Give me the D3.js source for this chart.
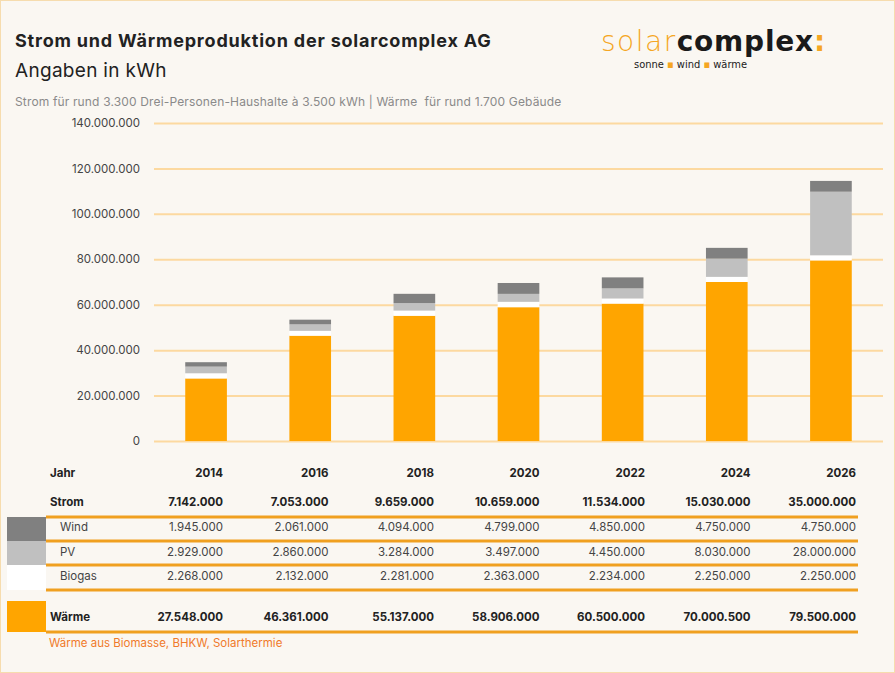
<!DOCTYPE html>
<html>
<head>
<meta charset="utf-8">
<script src="https://cdn.jsdelivr.net/npm/d3@7"></script>
<style>
  body { margin: 0; background: #faf7f2; }
  svg { display: block; font-family: Inter, "Noto Sans", sans-serif; }
</style>
</head>
<body>
<svg></svg>
<script>
let years = ["2014", "2016", "2018", "2020", "2022", "2024", "2026"];
let strom = [7142000, 7053000, 9659000, 10659000, 11534000, 15030000, 35000000];
let wind = [1945000, 2061000, 4094000, 4799000, 4850000, 4750000, 4750000];
let pv = [2929000, 2860000, 3284000, 3497000, 4450000, 8030000, 28000000];
let biogas = [2268000, 2132000, 2281000, 2363000, 2234000, 2250000, 2250000];
let waerme = [27548000, 46361000, 55137000, 58906000, 60500000, 70000500, 79500000];
let yTicks = [0, 20000000, 40000000, 60000000, 80000000, 100000000, 120000000, 140000000];

let width = 895;
let height = 673;

let colors = { waerme: "#ffa500", biogas: "#ffffff", pv: "#c0c0c0", wind: "#808080" };
let keys = ["waerme", "biogas", "pv", "wind"];

let de = d3.formatLocale({ decimal: ",", thousands: ".", grouping: [3], currency: ["", " €"] });
let fmt = de.format(",d");

let svg = d3.select("svg").attr("width", width).attr("height", height);

svg.append("rect")
   .attr("x", 0.5).attr("y", 0.5)
   .attr("width", width - 1).attr("height", height - 1)
   .attr("fill", "#faf7f2")
   .attr("stroke", "#f6dcae")

// header
svg.append("text").attr("x", 15).attr("y", 47)
   .attr("font-size", 18).attr("font-weight", 700).attr("fill", "#222")
   .attr("letter-spacing", 0.8)
   .text("Strom und Wärmeproduktion der solarcomplex AG")
svg.append("text").attr("x", 15).attr("y", 77)
   .attr("font-size", 19).attr("fill", "#222")
   .attr("letter-spacing", 0.3)
   .text("Angaben in kWh")
svg.append("text").attr("x", 15).attr("y", 106)
   .attr("font-size", 12).attr("fill", "#8a8a8a")
   .attr("letter-spacing", 0.15)
   .style("white-space", "pre")
   .text("Strom für rund 3.300 Drei-Personen-Haushalte à 3.500 kWh | Wärme  für rund 1.700 Gebäude")

// logo
let logo = svg.append("text").attr("x", 601).attr("y", 51)
   .attr("font-family", "'DejaVu Sans', sans-serif").attr("font-size", 28)
logo.append("tspan").attr("fill", "#f5a623").attr("font-weight", 300).attr("letter-spacing", 1.5).text("solar")
logo.append("tspan").attr("fill", "#1a1a1a").attr("font-weight", 700).attr("letter-spacing", 0.8).text("complex")
logo.append("tspan").attr("fill", "#f5a623").attr("font-weight", 700).text(":")
let sub = svg.append("text").attr("x", 634).attr("y", 68)
   .attr("font-family", "'DejaVu Sans Condensed', 'DejaVu Sans', sans-serif").attr("font-size", 11).attr("fill", "#1a1a1a")
sub.append("tspan").text("sonne ")
sub.append("tspan").attr("fill", "#f5a623").text("▪")
sub.append("tspan").text(" wind ")
sub.append("tspan").attr("fill", "#f5a623").text("▪")
sub.append("tspan").text(" wärme")

// scales
let xScale = d3.scaleBand()
               .domain(years)
               .range([154, 883])
               .paddingInner(0.6)
               .paddingOuter(0.3)

let yScale = d3.scaleLinear()
               .domain([0, 140000000])
               .range([441, 123])

// grid + y labels
let yAxis = svg.append("g")
   .attr("transform", "translate(154,0)")
   .call(d3.axisLeft(yScale).tickValues(yTicks).tickFormat(fmt).tickSize(-729).tickPadding(14))
yAxis.select(".domain").remove()
yAxis.selectAll(".tick line").attr("stroke", "#fcd9a0").attr("stroke-width", 2)
yAxis.selectAll(".tick text").attr("font-size", 11.5).attr("fill", "#444").attr("font-family", "Inter, sans-serif")

// stacked bars
let rows = years.map((y, i) => ({ year: y, waerme: waerme[i], biogas: biogas[i], pv: pv[i], wind: wind[i] }))
let series = d3.stack().keys(keys)(rows)

svg.append("g").selectAll("g")
   .data(series)
   .enter()
   .append("g")
   .attr("fill", (s) => colors[s.key])
   .selectAll("rect")
   .data((s) => s)
   .enter()
   .append("rect")
   .attr("x", (d) => xScale(d.data.year))
   .attr("width", xScale.bandwidth())
   .attr("y", (d) => yScale(d[1]))
   .attr("height", (d) => yScale(d[0]) - yScale(d[1]))

// table
let colX = d3.scalePoint().domain(years).range([223, 856])
let tbl = svg.append("g").attr("font-size", 11.5).attr("fill", "#222")

let tableRows = [
  { label: "Jahr", vals: years, y: 477, bold: true, lx: 50 },
  { label: "Strom", vals: strom.map(fmt), y: 506, bold: true, lx: 50 },
  { label: "Wind", vals: wind.map(fmt), y: 531, bold: false, lx: 60 },
  { label: "PV", vals: pv.map(fmt), y: 556, bold: false, lx: 60 },
  { label: "Biogas", vals: biogas.map(fmt), y: 580, bold: false, lx: 60 },
  { label: "Wärme", vals: waerme.map(fmt), y: 621, bold: true, lx: 50 }
]

tableRows.forEach((r) => {
  tbl.append("text").attr("x", r.lx).attr("y", r.y)
     .attr("font-weight", r.bold ? 700 : 400).attr("fill", r.bold ? "#222" : "#444")
     .text(r.label)
  tbl.selectAll(null)
     .data(r.vals)
     .enter()
     .append("text")
     .attr("x", (d, i) => colX(years[i]))
     .attr("y", r.y)
     .attr("text-anchor", "end")
     .attr("font-weight", r.bold ? 700 : 400)
     .attr("fill", r.bold ? "#222" : "#444")
     .text((d) => d)
})

// legend swatches
let swatches = [
  { key: "wind", y0: 517, y1: 541 },
  { key: "pv", y0: 541, y1: 565 },
  { key: "biogas", y0: 565, y1: 590 },
  { key: "waerme", y0: 601, y1: 632 }
]
svg.selectAll(".sw")
   .data(swatches)
   .enter()
   .append("rect")
   .attr("class", "sw")
   .attr("x", 7).attr("width", 39)
   .attr("y", (d) => d.y0)
   .attr("height", (d) => d.y1 - d.y0)
   .attr("fill", (d) => colors[d.key])

// orange rules
let rules = [517, 541, 565, 590, 632]
svg.selectAll(".rule")
   .data(rules)
   .enter()
   .append("line")
   .attr("class", "rule")
   .attr("x1", 46).attr("x2", 858)
   .attr("y1", (d) => d).attr("y2", (d) => d)
   .attr("stroke", "#f0a020").attr("stroke-width", 3)

svg.append("text").attr("x", 49).attr("y", 647)
   .attr("font-size", 11.5).attr("fill", "#f07a2a")
   .text("Wärme aus Biomasse, BHKW, Solarthermie")
</script>
</body>
</html>
